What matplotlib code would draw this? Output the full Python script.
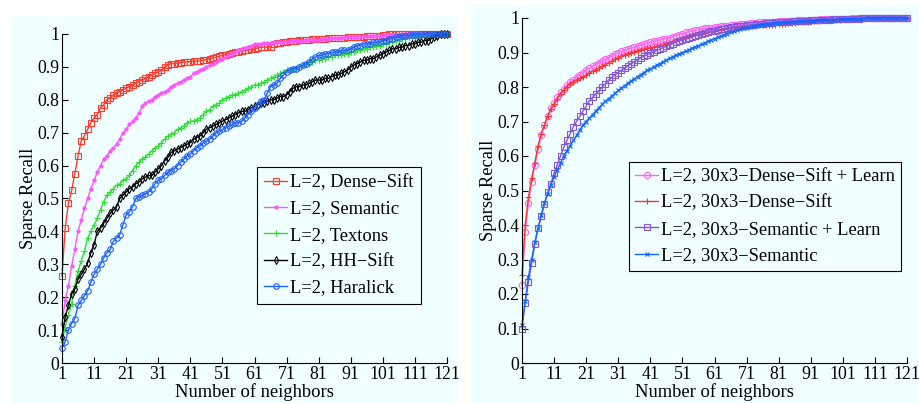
import numpy as np
import matplotlib
matplotlib.use("Agg")
import matplotlib.pyplot as plt
from matplotlib.patches import Rectangle

plt.rcParams['font.family'] = 'serif'
plt.rcParams['font.serif'] = ['Liberation Serif', 'DejaVu Serif']
plt.rcParams['mathtext.fontset'] = 'stix'

neighbors = list(range(1, 122))
xtick_vals = [1, 11, 21, 31, 41, 51, 61, 71, 81, 91, 101, 111, 121]
ytick_vals = [0, 0.1, 0.2, 0.3, 0.4, 0.5, 0.6, 0.7, 0.8, 0.9, 1]
ytick_labels = ['0', '0.1', '0.2', '0.3', '0.4', '0.5', '0.6', '0.7', '0.8', '0.9', '1']

# ---------------- Left panel ----------------
left_labels = ['L=2, Dense\u2212Sift', 'L=2, Semantic', 'L=2, Textons', 'L=2, HH\u2212Sift', 'L=2, Haralick']

dense_sift = [
    0.265, 0.41, 0.485, 0.525, 0.575, 0.63, 0.675, 0.69, 0.71, 0.73,
    0.745, 0.755, 0.775, 0.785, 0.80, 0.805, 0.815, 0.82, 0.825, 0.83,
    0.835, 0.84, 0.845, 0.85, 0.855, 0.86, 0.865, 0.87, 0.875, 0.88,
    0.885, 0.89, 0.90, 0.905, 0.91, 0.91, 0.912, 0.913, 0.915, 0.915,
    0.916, 0.917, 0.918, 0.918, 0.92, 0.922, 0.925, 0.927, 0.93, 0.932,
    0.935, 0.937, 0.94, 0.942, 0.945, 0.946, 0.948, 0.95, 0.951, 0.953,
    0.955, 0.958, 0.96, 0.96, 0.96, 0.962, 0.97, 0.972, 0.974, 0.975,
    0.977, 0.98, 0.98, 0.98, 0.981, 0.982, 0.982, 0.983, 0.984, 0.985,
    0.985, 0.986, 0.986, 0.987, 0.987, 0.988, 0.988, 0.989, 0.989, 0.99,
    0.99, 0.991, 0.991, 0.992, 0.992, 0.993, 0.993, 0.994, 0.994, 0.995,
    0.996, 0.998, 1.0, 1.0, 1.0, 1.0, 1.0, 1.0, 1.0, 1.0,
    1.0, 1.0, 1.0, 1.0, 1.0, 1.0, 1.0, 1.0, 1.0, 1.0, 1.0]

semantic = [
    0.12, 0.19, 0.235, 0.295, 0.345, 0.40, 0.435, 0.47, 0.50, 0.53,
    0.555, 0.58, 0.60, 0.62, 0.63, 0.645, 0.655, 0.665, 0.68, 0.70,
    0.71, 0.725, 0.735, 0.745, 0.76, 0.78, 0.79, 0.795, 0.80, 0.81,
    0.815, 0.82, 0.825, 0.83, 0.84, 0.845, 0.85, 0.855, 0.86, 0.865,
    0.87, 0.88, 0.885, 0.89, 0.895, 0.90, 0.905, 0.91, 0.915, 0.92,
    0.925, 0.93, 0.935, 0.94, 0.945, 0.95, 0.955, 0.958, 0.962, 0.965,
    0.97, 0.97, 0.971, 0.972, 0.972, 0.973, 0.975, 0.975, 0.976, 0.976,
    0.977, 0.978, 0.978, 0.979, 0.98, 0.98, 0.981, 0.981, 0.982, 0.982,
    0.983, 0.984, 0.985, 0.986, 0.987, 0.988, 0.988, 0.989, 0.99, 0.99,
    0.991, 0.991, 0.992, 0.992, 0.993, 0.993, 0.994, 0.994, 0.995, 0.995,
    0.996, 0.996, 0.997, 0.997, 0.998, 0.998, 0.999, 0.999, 1.0, 1.0,
    1.0, 1.0, 1.0, 1.0, 1.0, 1.0, 1.0, 1.0, 1.0, 1.0, 1.0]

textons = [
    0.065, 0.11, 0.145, 0.18, 0.235, 0.28, 0.31, 0.34, 0.38, 0.40,
    0.42, 0.44, 0.465, 0.49, 0.51, 0.52, 0.53, 0.54, 0.545, 0.555,
    0.56, 0.57, 0.585, 0.60, 0.61, 0.62, 0.625, 0.635, 0.645, 0.655,
    0.66, 0.67, 0.68, 0.69, 0.695, 0.70, 0.71, 0.715, 0.72, 0.73,
    0.735, 0.735, 0.74, 0.745, 0.755, 0.765, 0.77, 0.78, 0.785, 0.79,
    0.80, 0.805, 0.81, 0.815, 0.815, 0.82, 0.825, 0.83, 0.835, 0.84,
    0.845, 0.845, 0.85, 0.855, 0.86, 0.865, 0.87, 0.875, 0.88, 0.885,
    0.89, 0.89, 0.895, 0.895, 0.90, 0.905, 0.91, 0.91, 0.915, 0.92,
    0.92, 0.925, 0.925, 0.93, 0.93, 0.935, 0.935, 0.935, 0.94, 0.94,
    0.945, 0.945, 0.95, 0.95, 0.955, 0.955, 0.96, 0.96, 0.965, 0.965,
    0.97, 0.97, 0.975, 0.975, 0.98, 0.98, 0.985, 0.985, 0.99, 0.99,
    0.991, 0.992, 0.993, 0.994, 0.995, 0.996, 0.997, 0.998, 0.999, 1.0, 1.0]

hh_sift = [
    0.08, 0.14, 0.175, 0.21, 0.225, 0.255, 0.27, 0.285, 0.305, 0.335,
    0.36, 0.40, 0.41, 0.425, 0.44, 0.455, 0.465, 0.475, 0.50, 0.51,
    0.52, 0.53, 0.535, 0.545, 0.55, 0.56, 0.565, 0.57, 0.57, 0.58,
    0.59, 0.60, 0.615, 0.625, 0.64, 0.645, 0.65, 0.655, 0.66, 0.665,
    0.67, 0.68, 0.685, 0.69, 0.70, 0.71, 0.715, 0.72, 0.725, 0.73,
    0.735, 0.74, 0.745, 0.75, 0.755, 0.76, 0.765, 0.765, 0.77, 0.775,
    0.78, 0.785, 0.79, 0.79, 0.795, 0.80, 0.80, 0.805, 0.81, 0.81,
    0.815, 0.825, 0.835, 0.84, 0.84, 0.845, 0.845, 0.85, 0.855, 0.86,
    0.86, 0.86, 0.865, 0.865, 0.87, 0.875, 0.875, 0.88, 0.885, 0.89,
    0.90, 0.905, 0.91, 0.915, 0.92, 0.92, 0.925, 0.925, 0.93, 0.935,
    0.94, 0.945, 0.95, 0.955, 0.955, 0.96, 0.96, 0.965, 0.965, 0.97,
    0.97, 0.975, 0.975, 0.98, 0.98, 0.985, 0.99, 0.995, 1.0, 1.0, 1.0]

haralick = [
    0.045, 0.065, 0.10, 0.12, 0.135, 0.175, 0.19, 0.205, 0.22, 0.245,
    0.27, 0.285, 0.30, 0.32, 0.335, 0.345, 0.37, 0.38, 0.39, 0.42,
    0.45, 0.46, 0.475, 0.50, 0.505, 0.51, 0.515, 0.52, 0.53, 0.545,
    0.555, 0.56, 0.57, 0.58, 0.585, 0.59, 0.60, 0.61, 0.62, 0.63,
    0.635, 0.645, 0.655, 0.66, 0.67, 0.675, 0.68, 0.69, 0.70, 0.705,
    0.71, 0.715, 0.72, 0.725, 0.73, 0.73, 0.735, 0.745, 0.755, 0.765,
    0.775, 0.785, 0.795, 0.80, 0.82, 0.84, 0.845, 0.85, 0.865, 0.875,
    0.885, 0.89, 0.895, 0.895, 0.90, 0.905, 0.91, 0.915, 0.925, 0.93,
    0.935, 0.935, 0.94, 0.94, 0.945, 0.945, 0.945, 0.95, 0.95, 0.95,
    0.955, 0.96, 0.965, 0.965, 0.97, 0.97, 0.97, 0.975, 0.975, 0.975,
    0.98, 0.98, 0.985, 0.985, 0.99, 0.99, 0.995, 0.995, 0.996, 0.997,
    0.998, 0.998, 0.999, 0.999, 1.0, 1.0, 1.0, 1.0, 1.0, 1.0, 1.0]

# ---------------- Right panel ----------------
right_labels = ['L=2, 30x3\u2212Dense\u2212Sift + Learn', 'L=2, 30x3\u2212Dense\u2212Sift',
                'L=2, 30x3\u2212Semantic + Learn', 'L=2, 30x3\u2212Semantic']

ds_learn = [
    0.225, 0.38, 0.465, 0.525, 0.575, 0.62, 0.66, 0.69, 0.715, 0.74,
    0.755, 0.77, 0.785, 0.795, 0.805, 0.815, 0.82, 0.83, 0.835, 0.84,
    0.85, 0.855, 0.86, 0.865, 0.87, 0.875, 0.88, 0.885, 0.89, 0.895,
    0.90, 0.903, 0.906, 0.909, 0.912, 0.915, 0.918, 0.921, 0.924, 0.927,
    0.93, 0.932, 0.934, 0.936, 0.938, 0.94, 0.943, 0.946, 0.949, 0.952,
    0.955, 0.958, 0.96, 0.962, 0.964, 0.966, 0.968, 0.97, 0.971, 0.972,
    0.974, 0.975, 0.976, 0.977, 0.978, 0.979, 0.98, 0.981, 0.982, 0.983,
    0.984, 0.985, 0.986, 0.986, 0.987, 0.987, 0.988, 0.988, 0.989, 0.989,
    0.99, 0.99, 0.991, 0.991, 0.992, 0.992, 0.993, 0.993, 0.994, 0.994,
    0.995, 0.995, 0.995, 0.996, 0.996, 0.996, 0.997, 0.997, 0.997, 0.998,
    0.998, 0.998, 0.998, 0.999, 0.999, 0.999, 0.999, 0.999, 1.0, 1.0,
    1.0, 1.0, 1.0, 1.0, 1.0, 1.0, 1.0, 1.0, 1.0, 1.0, 1.0]

ds_30x3 = [
    0.255, 0.40, 0.48, 0.535, 0.58, 0.63, 0.665, 0.69, 0.715, 0.735,
    0.75, 0.765, 0.78, 0.79, 0.80, 0.81, 0.815, 0.82, 0.825, 0.83,
    0.835, 0.84, 0.845, 0.85, 0.855, 0.86, 0.865, 0.87, 0.875, 0.88,
    0.885, 0.89, 0.893, 0.896, 0.899, 0.902, 0.905, 0.908, 0.91, 0.912,
    0.914, 0.916, 0.918, 0.92, 0.922, 0.925, 0.928, 0.931, 0.934, 0.937,
    0.94, 0.943, 0.946, 0.948, 0.95, 0.952, 0.954, 0.956, 0.958, 0.96,
    0.962, 0.964, 0.966, 0.968, 0.97, 0.971, 0.972, 0.973, 0.974, 0.975,
    0.976, 0.977, 0.978, 0.978, 0.979, 0.979, 0.98, 0.98, 0.981, 0.981,
    0.982, 0.983, 0.984, 0.985, 0.985, 0.986, 0.987, 0.988, 0.988, 0.989,
    0.99, 0.991, 0.991, 0.992, 0.993, 0.993, 0.994, 0.994, 0.995, 0.995,
    0.996, 0.996, 0.997, 0.997, 0.998, 0.998, 0.999, 0.999, 1.0, 1.0,
    1.0, 1.0, 1.0, 1.0, 1.0, 1.0, 1.0, 1.0, 1.0, 1.0, 1.0]

sem_learn = [
    0.10, 0.175, 0.235, 0.29, 0.345, 0.39, 0.425, 0.46, 0.495, 0.52,
    0.55, 0.575, 0.60, 0.625, 0.645, 0.665, 0.685, 0.70, 0.715, 0.73,
    0.745, 0.76, 0.77, 0.78, 0.79, 0.80, 0.81, 0.82, 0.828, 0.835,
    0.842, 0.849, 0.855, 0.861, 0.867, 0.873, 0.879, 0.884, 0.889, 0.894,
    0.898, 0.902, 0.906, 0.91, 0.914, 0.918, 0.922, 0.926, 0.93, 0.933,
    0.936, 0.939, 0.942, 0.945, 0.948, 0.951, 0.954, 0.957, 0.959, 0.961,
    0.963, 0.965, 0.967, 0.969, 0.971, 0.973, 0.975, 0.976, 0.977, 0.978,
    0.979, 0.98, 0.981, 0.982, 0.983, 0.984, 0.985, 0.986, 0.986, 0.987,
    0.988, 0.988, 0.989, 0.989, 0.99, 0.99, 0.991, 0.991, 0.992, 0.992,
    0.993, 0.993, 0.994, 0.994, 0.995, 0.995, 0.995, 0.996, 0.996, 0.996,
    0.997, 0.997, 0.997, 0.998, 0.998, 0.998, 0.999, 0.999, 0.999, 0.999,
    1.0, 1.0, 1.0, 1.0, 1.0, 1.0, 1.0, 1.0, 1.0, 1.0, 1.0]

sem_30x3 = [
    0.11, 0.18, 0.25, 0.30, 0.35, 0.39, 0.43, 0.465, 0.49, 0.515,
    0.54, 0.56, 0.58, 0.60, 0.615, 0.63, 0.645, 0.66, 0.675, 0.69,
    0.70, 0.71, 0.72, 0.73, 0.74, 0.75, 0.758, 0.766, 0.774, 0.782,
    0.79, 0.797, 0.804, 0.811, 0.818, 0.824, 0.83, 0.836, 0.842, 0.848,
    0.853, 0.858, 0.863, 0.868, 0.873, 0.878, 0.883, 0.888, 0.892, 0.896,
    0.90, 0.904, 0.908, 0.912, 0.916, 0.92, 0.924, 0.928, 0.932, 0.936,
    0.94, 0.944, 0.948, 0.952, 0.955, 0.958, 0.961, 0.964, 0.967, 0.97,
    0.972, 0.974, 0.976, 0.978, 0.98, 0.981, 0.982, 0.983, 0.984, 0.985,
    0.986, 0.987, 0.987, 0.988, 0.989, 0.989, 0.99, 0.99, 0.991, 0.991,
    0.992, 0.992, 0.993, 0.993, 0.994, 0.994, 0.995, 0.995, 0.995, 0.996,
    0.996, 0.997, 0.997, 0.997, 0.998, 0.998, 0.998, 0.999, 0.999, 0.999,
    0.999, 1.0, 1.0, 1.0, 1.0, 1.0, 1.0, 1.0, 1.0, 1.0, 1.0]

BG = '#f0ffff'
fig = plt.figure(figsize=(9.19, 4.03), dpi=100)
W, H = 919.0, 403.0
# cyan panel backgrounds (drawn beneath the axes)
bgL = Rectangle((12 / W, 0), (458 - 12) / W, (403 - 15) / H,
                transform=fig.transFigure, facecolor=BG, edgecolor='none', zorder=-10)
bgR = Rectangle((472 / W, 0), (919 - 472) / W, (403 - 5) / H,
                transform=fig.transFigure, facecolor=BG, edgecolor='none', zorder=-10)
fig.add_artist(bgL)
fig.add_artist(bgR)

axL = fig.add_axes([62 / W, 40 / H, (447 - 62) / W, (363 - 34) / H])
axR = fig.add_axes([522 / W, 40 / H, (907 - 522) / W, (363 - 18) / H])
axL.set_zorder(1)
axR.set_zorder(1)

FS = 13.3
TFS = 12.8
left_series = [
    (dense_sift, '#ff3b2f', 's', dict(mfc='none', ms=4.0, mew=0.8)),
    (semantic, '#ff55ff', 'o', dict(mfc='#ff55ff', ms=2.5, mew=0.5)),
    (textons, '#30e030', '+', dict(ms=4.0, mew=0.8)),
    (hh_sift, '#000000', 'd', dict(mfc='none', ms=4.0, mew=0.8)),
    (haralick, '#1f5fff', 'o', dict(mfc='none', ms=4.0, mew=0.8)),
]
for (vals, c, m, kw), lab in zip(left_series, left_labels):
    axL.plot(neighbors, vals, color=c, marker=m, lw=1.0, label=lab, mec=c,
             clip_on=False, **kw)

right_series = [
    (ds_learn, '#ff66ee', 'o', dict(mfc='none', ms=4.5, mew=0.8)),
    (ds_30x3, '#ff3333', '+', dict(ms=4.5, mew=0.8)),
    (sem_learn, '#8855dd', 's', dict(mfc='none', ms=4.0, mew=0.8)),
    (sem_30x3, '#1166ff', 'x', dict(ms=2.5, mew=0.8)),
]
for (vals, c, m, kw), lab in zip(right_series, right_labels):
    axR.plot(neighbors, vals, color=c, marker=m, lw=1.0, label=lab, mec=c,
             clip_on=False, **kw)

for ax in (axL, axR):
    ax.set_facecolor('none')
    ax.patch.set_alpha(0)
    ax.set_xlim(1, 121)
    ax.set_ylim(0, 1)
    ax.set_xticks(xtick_vals)
    ax.set_xticklabels([str(v) for v in xtick_vals], fontsize=TFS)
    ax.set_yticks(ytick_vals)
    ax.set_yticklabels(ytick_labels, fontsize=TFS)
    ax.spines['top'].set_visible(False)
    ax.spines['right'].set_visible(False)
    for s in ('left', 'bottom'):
        ax.spines[s].set_linewidth(0.8)
    ax.tick_params(direction='in', length=4, width=0.8, pad=2, colors='black')
    ax.set_xlabel('Number of neighbors', fontsize=FS, labelpad=0)
    ax.set_ylabel('Sparse Recall', fontsize=FS, labelpad=0)

legL = axL.legend(loc='upper left', bbox_to_anchor=(0.506, 0.596), fontsize=FS,
                  frameon=True, fancybox=False, edgecolor='black', facecolor=BG,
                  framealpha=1, handlelength=1.25, handletextpad=0.15, borderpad=0.4,
                  labelspacing=0.5, borderaxespad=0)
legL.get_frame().set_linewidth(0.8)
legR = axR.legend(loc='upper left', bbox_to_anchor=(0.277, 0.583), fontsize=FS,
                  frameon=True, fancybox=False, edgecolor='black', facecolor=BG,
                  framealpha=1, handlelength=1.25, handletextpad=0.15, borderpad=0.35,
                  labelspacing=0.5, borderaxespad=0)
legR.get_frame().set_linewidth(0.8)

fig.savefig('out.png', dpi=100, facecolor='white')
